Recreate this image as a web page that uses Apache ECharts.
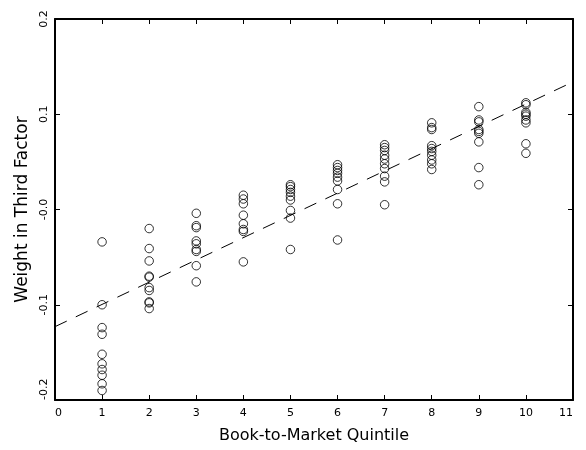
<!DOCTYPE html>
<html>
<head>
<meta charset="utf-8">
<script src="https://cdn.jsdelivr.net/npm/echarts@6/dist/echarts.min.js"></script>
<style>
  html, body { margin: 0; padding: 0; background: #fff; }
  #chart { width: 586px; height: 450px; }
</style>
</head>
<body>
<div id="chart"></div>
<script>
// Book-to-market quintile positions (1..10) and the weights observed at each
const quintiles = [1, 2, 3, 4, 5, 6, 7, 8, 9, 10];
const weights1 = [-0.034, -0.100, -0.124, -0.131, -0.152, -0.162, -0.168, -0.174, -0.183, -0.190];
const weights2 = [-0.020, -0.041, -0.054, -0.070, -0.071, -0.082, -0.085, -0.097, -0.098, -0.104];
const weights3 = [-0.004, -0.017, -0.019, -0.033, -0.036, -0.042, -0.044, -0.059, -0.076];
const weights4 = [0.015, 0.011, 0.006, -0.006, -0.015, -0.021, -0.023, -0.055];
const weights5 = [0.026, 0.024, 0.021, 0.018, 0.014, 0.010, -0.001, -0.009, -0.042];
const weights6 = [0.047, 0.044, 0.041, 0.038, 0.034, 0.030, 0.021, 0.006, -0.032];
const weights7 = [0.068, 0.065, 0.062, 0.057, 0.053, 0.048, 0.043, 0.035, 0.029, 0.005];
const weights8 = [0.091, 0.086, 0.084, 0.067, 0.064, 0.061, 0.057, 0.052, 0.048, 0.042];
const weights9 = [0.108, 0.094, 0.092, 0.084, 0.082, 0.080, 0.071, 0.044, 0.026];
const weights10 = [0.112, 0.110, 0.102, 0.100, 0.098, 0.094, 0.091, 0.069, 0.059];

// Fitted line endpoints across the x range
const trendX = [0, 11];
const trendY = [-0.123, 0.134];

// Tick labels
const xTickLabels = ['0', '1', '2', '3', '4', '5', '6', '7', '8', '9', '10', '11'];
const yTickValues = [-0.2, -0.1, 0, 0.1, 0.2];
const yTickLabels = ['-0.2', '-0.1', '-0.0', '0.1', '0.2'];

const weightColumns = [weights1, weights2, weights3, weights4, weights5,
                       weights6, weights7, weights8, weights9, weights10];

const scatterData = [];
weightColumns.forEach((col, i) => {
  col.forEach(v => scatterData.push([quintiles[i], v]));
});
const trendData = trendX.map((x, i) => [x, trendY[i]]);

const FONT = 'DejaVu Sans';

function yLabel(v) {
  for (let i = 0; i < yTickValues.length; i++) {
    if (Math.abs(v - yTickValues[i]) < 1e-9) return yTickLabels[i];
  }
  return '';
}

const frameLine = { show: true, onZero: false, lineStyle: { color: '#000', width: 2 } };
const innerTick = { show: true, inside: true, length: 5, lineStyle: { color: '#000', width: 1 } };

const chart = echarts.init(document.getElementById('chart'), null, { renderer: 'canvas' });
chart.setOption({
  animation: false,
  backgroundColor: '#fff',
  grid: { left: 55, right: 13, top: 19, bottom: 50, containLabel: false },
  xAxis: [
    {
      type: 'value', min: 0, max: 11, interval: 1, position: 'bottom',
      name: 'Book-to-Market Quintile', nameLocation: 'middle', nameGap: 28,
      nameTextStyle: { fontFamily: FONT, fontSize: 16, color: '#000' },
      axisLine: frameLine,
      axisTick: innerTick,
      axisLabel: {
        fontFamily: FONT, fontSize: 11, color: '#000', margin: 8,
        formatter: v => xTickLabels[Math.round(v)] || '',
        alignMinLabel: 'left', alignMaxLabel: 'right'
      },
      splitLine: { show: false }
    },
    {
      type: 'value', min: 0, max: 11, interval: 1, position: 'top',
      axisLine: frameLine,
      axisTick: innerTick,
      axisLabel: { show: false },
      splitLine: { show: false }
    }
  ],
  yAxis: [
    {
      type: 'value', min: -0.2, max: 0.2, interval: 0.1, position: 'left',
      name: 'Weight in Third Factor', nameLocation: 'middle', nameGap: 18,
      nameTextStyle: { fontFamily: FONT, fontSize: 17, color: '#000' },
      axisLine: frameLine,
      axisTick: innerTick,
      axisLabel: {
        fontFamily: FONT, fontSize: 11, color: '#000', margin: 5, rotate: 90,
        formatter: yLabel, alignMinLabel: 'left'
      },
      splitLine: { show: false }
    },
    {
      type: 'value', min: -0.2, max: 0.2, interval: 0.1, position: 'right',
      axisLine: frameLine,
      axisTick: innerTick,
      axisLabel: { show: false },
      splitLine: { show: false }
    }
  ],
  series: [
    {
      type: 'line', xAxisIndex: 0, yAxisIndex: 0,
      data: trendData, symbol: 'none', silent: true,
      lineStyle: { color: '#000', width: 1, type: [13, 10] }
    },
    {
      type: 'scatter', xAxisIndex: 0, yAxisIndex: 0,
      data: scatterData, symbol: 'circle', symbolSize: 8.5,
      itemStyle: { color: 'rgba(0,0,0,0)', borderColor: '#000', borderWidth: 1 }
    }
  ]
});
</script>
</body>
</html>
